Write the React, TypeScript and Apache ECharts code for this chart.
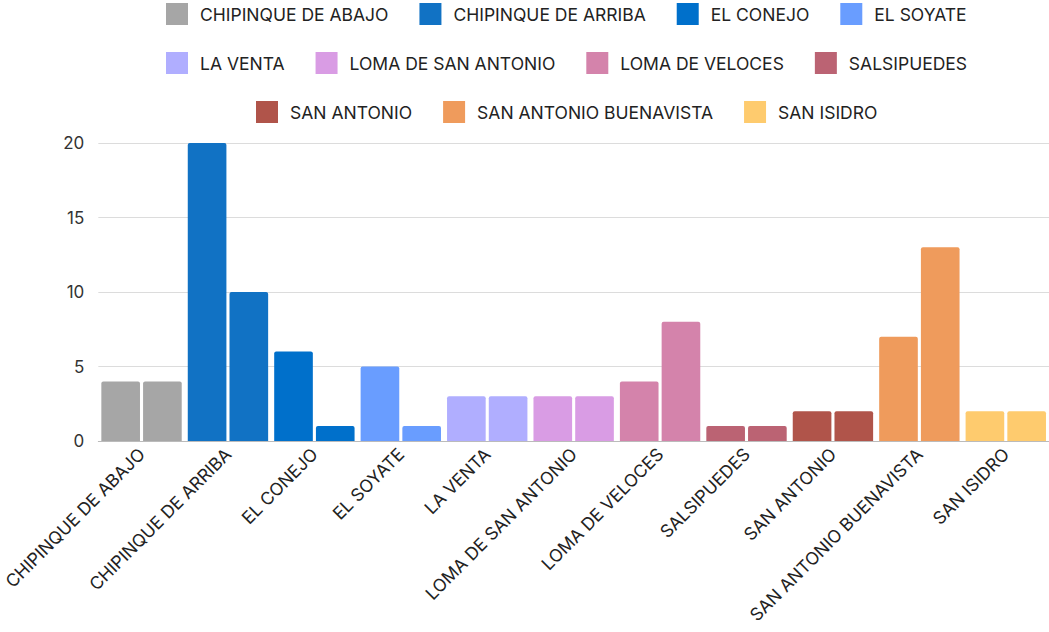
import React, { useEffect, useRef } from "react";
import * as echarts from "echarts";

const categories = [
  "CHIPINQUE DE ABAJO",
  "CHIPINQUE DE ARRIBA",
  "EL CONEJO",
  "EL SOYATE",
  "LA VENTA",
  "LOMA DE SAN ANTONIO",
  "LOMA DE VELOCES",
  "SALSIPUEDES",
  "SAN ANTONIO",
  "SAN ANTONIO BUENAVISTA",
  "SAN ISIDRO",
];
const firstValues = [4, 20, 6, 5, 3, 3, 4, 1, 2, 7, 2];
const secondValues = [4, 10, 1, 1, 3, 3, 8, 1, 2, 13, 2];
const colors = [
  "#a6a6a6",
  "#1172c4",
  "#0070cb",
  "#699dff",
  "#b0aeff",
  "#d99ce4",
  "#d483ab",
  "#bb6373",
  "#b0544a",
  "#ef9b5c",
  "#fecb6e",
];
const yTicks = [0, 5, 10, 15, 20];
const legendRows = [
  categories.slice(0, 4),
  categories.slice(4, 8),
  categories.slice(8, 11),
];

const FONT = "Inter, 'Noto Sans', sans-serif";

export default function App() {
  const ref = useRef<HTMLDivElement>(null);
  useEffect(() => {
    document.body.style.margin = "0";
    if (!ref.current) return;
    const chart = echarts.init(ref.current, undefined, { renderer: "svg" });
    const mkBar = (name: string, vals: number[]) => ({
      name,
      type: "bar",
      data: vals.map((v, i) => ({
        value: v,
        itemStyle: { color: colors[i] },
      })),
      barGap: "8%",
      barCategoryGap: "7%",
      itemStyle: { borderRadius: [2, 2, 0, 0] },
      legendHoverLink: false,
    });
    const legendSeries = categories.map((c, i) => ({
      name: c,
      type: "line",
      data: [],
      itemStyle: { color: colors[i] },
      lineStyle: { color: colors[i] },
    }));
    const legendLefts = [166, 166, 256];
    const legendTops = [3, 52, 101];
    const legends = legendRows.map((row, r) => ({
      data: row,
      top: legendTops[r],
      left: legendLefts[r],
      padding: 0,
      icon: "rect",
      itemWidth: 22,
      itemHeight: 22,
      itemGap: 31,
      textStyle: {
        fontSize: 17.5,
        color: "#222",
        fontFamily: FONT,
        padding: [0, 0, 0, 7],
      },
    }));
    chart.setOption({
      animation: false,
      textStyle: { fontFamily: FONT },
      legend: legends,
      grid: { left: 94, right: 0, top: 143, bottom: 191, containLabel: false },
      xAxis: {
        type: "category",
        data: categories,
        axisTick: { show: false },
        axisLine: { lineStyle: { color: "#bbb" } },
        axisLabel: {
          rotate: 45,
          interval: 0,
          fontSize: 17.5,
          color: "#222",
          margin: 10,
          fontFamily: FONT,
        },
      },
      yAxis: {
        type: "value",
        min: yTicks[0],
        max: yTicks[yTicks.length - 1],
        interval: 5,
        axisLine: { show: false },
        axisTick: { show: false },
        splitLine: { lineStyle: { color: "#dcdcdc" } },
        axisLabel: { fontSize: 17, color: "#333", margin: 14, fontFamily: FONT },
      },
      series: [mkBar("A", firstValues), mkBar("B", secondValues), ...legendSeries],
    });
    return () => chart.dispose();
  }, []);
  return <div ref={ref} style={{ width: 1049, height: 632 }} />;
}
